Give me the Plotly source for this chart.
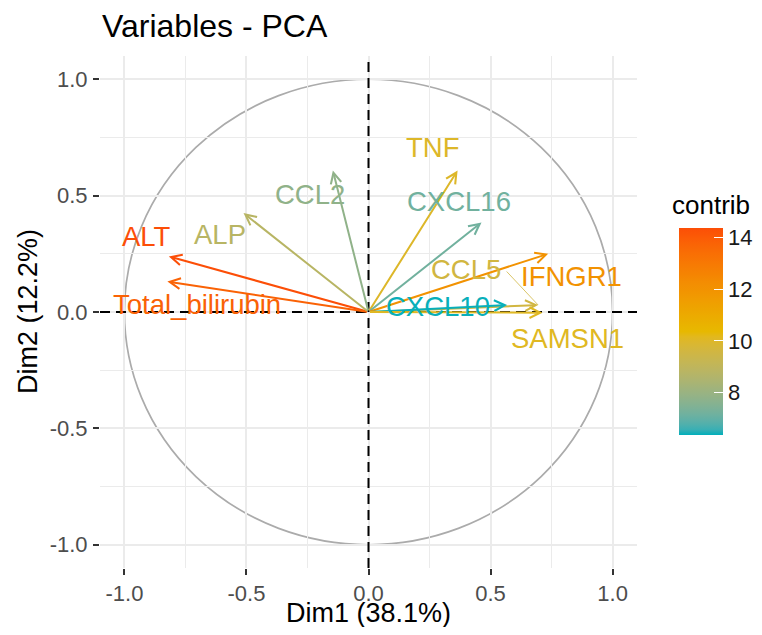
import plotly.graph_objects as go
from plotly.colors import sample_colorscale

# ---------------- data ----------------
variables = ["ALT", "Total_bilirubin", "ALP", "CCL2", "TNF",
             "CXCL16", "IFNGR1", "CCL5", "CXCL10", "SAMSN1"]
dim1 = [-0.818, -0.824, -0.512, -0.146, 0.365, 0.463, 0.736, 0.695, 0.568, 0.713]
dim2 = [0.239, 0.131, 0.425, 0.608, 0.608, 0.385, 0.250, 0.030, 0.030, -0.003]
contrib = [14.36, 13.8, 8.8, 7.8, 10.0, 7.2, 12.0, 9.6, 6.4, 10.1]

axis_tickvals = [-1.0, -0.5, 0.0, 0.5, 1.0]
axis_ticktext = ["-1.0", "-0.5", "0.0", "0.5", "1.0"]
minor_tickvals = [-0.75, -0.25, 0.25, 0.75]
contrib_ticks = [8, 10, 12, 14]
contrib_ticktext = ["8", "10", "12", "14"]
contrib_min, contrib_max = 6.37, 14.36

# ---------------- layout helpers (positions / styles) ----------------
label_pos = {
    "ALT": (-0.908, 0.325),
    "Total_bilirubin": (-0.703, 0.034),
    "ALP": (-0.608, 0.332),
    "CCL2": (-0.241, 0.504),
    "TNF": (0.261, 0.705),
    "CXCL16": (0.371, 0.475),
    "IFNGR1": (0.833, 0.153),
    "CCL5": (0.40, 0.182),
    "CXCL10": (0.286, 0.024),
    "SAMSN1": (0.814, -0.112),
}
repel_segments = {"CCL5": (0.566, 0.174)}

FONT = "Liberation Sans, Arial, sans-serif"
RANGE = [-1.1, 1.1]
gradient_cols = ["#00AFBB", "#E7B800", "#FC4E07"]


# Lab-space interpolation (as ggplot2's gradientn does) -> dense colorscale
def _hex_to_rgb(h):
    h = h.lstrip("#")
    return [int(h[i:i + 2], 16) / 255 for i in (0, 2, 4)]


def _lin(c):
    return c / 12.92 if c <= 0.04045 else ((c + 0.055) / 1.055) ** 2.4


def _delin(c):
    c = max(0.0, min(1.0, c))
    return 12.92 * c if c <= 0.0031308 else 1.055 * c ** (1 / 2.4) - 0.055


def _rgb_to_lab(rgb):
    r, g, b = [_lin(c) for c in rgb]
    X = (0.4124 * r + 0.3576 * g + 0.1805 * b) / 0.95047
    Y = (0.2126 * r + 0.7152 * g + 0.0722 * b)
    Z = (0.0193 * r + 0.1192 * g + 0.9505 * b) / 1.08883
    f = lambda t: t ** (1 / 3) if t > 0.008856 else 7.787 * t + 16 / 116
    fx, fy, fz = f(X), f(Y), f(Z)
    return [116 * fy - 16, 500 * (fx - fy), 200 * (fy - fz)]


def _lab_to_rgb(lab):
    L, a, b = lab
    fy = (L + 16) / 116
    fx = fy + a / 500
    fz = fy - b / 200
    finv = lambda t: t ** 3 if t ** 3 > 0.008856 else (t - 16 / 116) / 7.787
    X, Y, Z = finv(fx) * 0.95047, finv(fy), finv(fz) * 1.08883
    r = 3.2406 * X - 1.5372 * Y - 0.4986 * Z
    g = -0.9689 * X + 1.8758 * Y + 0.0415 * Z
    bb = 0.0557 * X - 0.2040 * Y + 1.0570 * Z
    return [round(_delin(c) * 255) for c in (r, g, bb)]


labs = [_rgb_to_lab(_hex_to_rgb(c)) for c in gradient_cols]
colorscale = []
N = 40
for k in range(N + 1):
    t = k / N
    seg = 0 if t <= 0.5 else 1
    u = (t - 0.5 * seg) / 0.5
    lab = [labs[seg][j] + (labs[seg + 1][j] - labs[seg][j]) * u for j in range(3)]
    r, g, b = _lab_to_rgb(lab)
    colorscale.append([t, f"rgb({r},{g},{b})"])

norm = [(c - contrib_min) / (contrib_max - contrib_min) for c in contrib]
norm = [min(max(v, 0.0), 1.0) for v in norm]
colors = sample_colorscale(colorscale, norm)

fig = go.Figure()

# invisible trace carrying the colour bar
fig.add_trace(go.Scatter(
    x=dim1, y=dim2, mode="markers", hoverinfo="skip", showlegend=False,
    marker=dict(
        color=contrib, colorscale=colorscale, cmin=contrib_min, cmax=contrib_max,
        size=1, opacity=0,
        colorbar=dict(
            thickness=44, len=207, lenmode="pixels",
            x=1.078, xanchor="left", y=0.462, yanchor="middle",
            xpad=0, ypad=0, outlinewidth=0,
            tickvals=contrib_ticks, ticktext=contrib_ticktext,
            ticks="inside", ticklen=9,
            tickcolor="white", tickwidth=1.2,
            tickfont=dict(family=FONT, size=22, color="#1A1A1A"),
        ),
    ),
))

shapes = [
    dict(type="circle", xref="x", yref="y", x0=-1, y0=-1, x1=1, y1=1,
         line=dict(color="#ABABAB", width=1.7), layer="below"),
    dict(type="line", xref="x", yref="y", x0=RANGE[0], x1=RANGE[1], y0=0, y1=0,
         line=dict(color="black", width=2, dash="10px,6px"), layer="above"),
    dict(type="line", xref="x", yref="y", x0=0, x1=0, y0=RANGE[0], y1=RANGE[1],
         line=dict(color="black", width=2, dash="10px,6px"), layer="above"),
]

annotations = []
# arrows
for name, x, y, col in zip(variables, dim1, dim2, colors):
    annotations.append(dict(
        x=x, y=y, ax=0, ay=0, xref="x", yref="y", axref="x", ayref="y",
        text="", showarrow=True, arrowhead=5, arrowsize=1.05, arrowwidth=2,
        arrowcolor=col, standoff=0, startstandoff=0,
    ))
# repel segments
for name, (sx, sy) in repel_segments.items():
    i = variables.index(name)
    shapes.append(dict(type="line", xref="x", yref="y", x0=sx, y0=sy,
                       x1=dim1[i], y1=dim2[i],
                       line=dict(color=colors[i], width=0.8), layer="above"))
# labels
for name, col in zip(variables, colors):
    lx, ly = label_pos[name]
    annotations.append(dict(
        x=lx, y=ly, xref="x", yref="y", text=name, showarrow=False,
        xanchor="center", yanchor="middle",
        font=dict(family=FONT, size=27.5, color=col),
    ))

# title, axis titles, legend title
annotations += [
    dict(text="Variables - PCA", x=0, y=1.0586, xref="paper", yref="paper",
         xanchor="left", yanchor="middle", showarrow=False,
         font=dict(family=FONT, size=32, color="black")),
    dict(text="Dim1 (38.1%)", x=0.5, y=-0.088, xref="paper", yref="paper",
         xanchor="center", yanchor="middle", showarrow=False,
         font=dict(family=FONT, size=27, color="black")),
    dict(text="Dim2 (12.2%)", x=-0.134, y=0.5, xref="paper", yref="paper",
         xanchor="center", yanchor="middle", showarrow=False, textangle=-90,
         font=dict(family=FONT, size=27, color="black")),
    dict(text="contrib", x=1.214, y=0.709, xref="paper", yref="paper",
         xanchor="right", yanchor="middle", showarrow=False,
         font=dict(family=FONT, size=26, color="black")),
]

axis_common = dict(
    range=RANGE, tickvals=axis_tickvals, ticktext=axis_ticktext,
    showgrid=True, gridcolor="#EBEBEB", gridwidth=1.6,
    zeroline=False, showline=False,
    ticks="outside", ticklen=6, tickwidth=1.5, tickcolor="#333333",
    tickfont=dict(family=FONT, size=22, color="#4D4D4D"),
    minor=dict(tickvals=minor_tickvals, showgrid=True, gridcolor="#EBEBEB",
               gridwidth=0.9, ticks=""),
)

# the page body has an 8px margin on every side: keep the figure inside the window
fig.update_layout(
    width=746, height=619,
    margin=dict(l=92, r=117, t=48, b=59, autoexpand=False),
    paper_bgcolor="white", plot_bgcolor="white",
    xaxis=dict(**axis_common),
    yaxis=dict(**axis_common, ticklabelstandoff=1),
    shapes=shapes, annotations=annotations, showlegend=False,
)

fig.write_html("out.html")
